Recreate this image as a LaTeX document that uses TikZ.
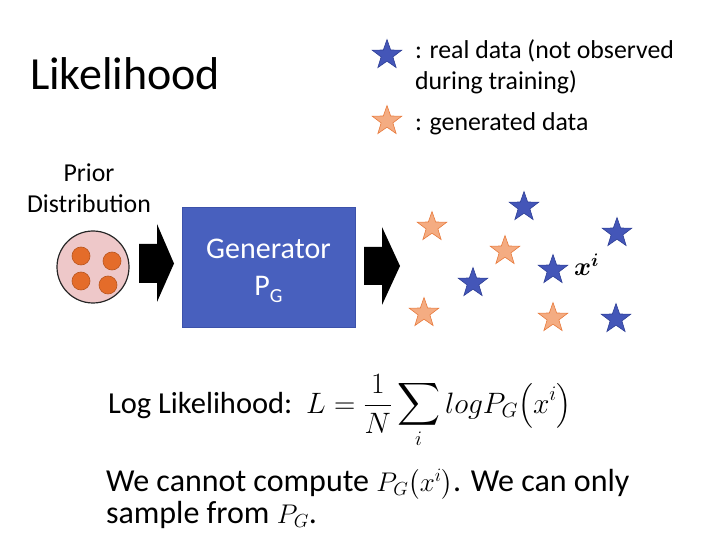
\RequirePackage{fix-cm}
\documentclass[tikz,border=0pt]{standalone}
\usepackage{amsmath}
\usepackage{graphicx}
\usepackage{fontspec}
\setmainfont{Carlito}
\usetikzlibrary{shapes.geometric}
\definecolor{genblue}{RGB}{72,96,190}
\definecolor{genedge}{RGB}{60,82,170}
\definecolor{realfill}{RGB}{68,86,184}
\definecolor{realedge}{RGB}{45,62,150}
\definecolor{genfill}{RGB}{244,172,130}
\definecolor{genline}{RGB}{232,122,60}
\definecolor{priorpink}{RGB}{238,200,201}
\definecolor{dotfill}{RGB}{228,108,42}
\definecolor{dotedge}{RGB}{185,85,30}
\tikzset{
  realstar/.style={star, star points=5, star point ratio=2.5, minimum size=31pt, inner sep=0pt,
    fill=realfill, draw=realedge, line width=0.6pt},
  genstar/.style={star, star points=5, star point ratio=2.5, minimum size=31pt, inner sep=0pt,
    fill=genfill, draw=genline, line width=0.6pt},
  dot/.style={circle, minimum size=18pt, inner sep=0pt, fill=dotfill, draw=dotedge, line width=0.6pt},
  txt/.style={anchor=base west, inner sep=0pt, outer sep=0pt},
  ctxt/.style={anchor=base, inner sep=0pt, outer sep=0pt},
  blockarrow/.style={fill=black},
}
\newcommand{\bigsum}{\mathop{\scalebox{1.2}{$\displaystyle\sum$}}\limits}
\newcommand{\smallmath}[1]{{\fontsize{27}{30}\selectfont$#1$}}
\begin{document}
\begin{tikzpicture}[x=1pt,y=-1pt]
\useasboundingbox (0,0) rectangle (712,545);
% title
\node[txt] (title) at (30,90) {\fontsize{46}{52}\selectfont Likelihood};
% legend
\node[realstar] (lreal) at (387,55) {};
\node[genstar] (lgen) at (387,121) {};
\node[txt] (lrealtxt1) at (415,59) {\fontsize{25.8}{30}\selectfont : real data (not observed};
\node[txt] (lrealtxt2) at (415,90) {\fontsize{25.8}{30}\selectfont during training)};
\node[txt] (lgentxt) at (415,131) {\fontsize{25.8}{30}\selectfont : generated data};
% prior
\node[ctxt] (priorA) at (89,182) {\fontsize{25.8}{30}\selectfont Prior};
\node[ctxt] (priorB) at (89,213) {\fontsize{25.8}{30}\selectfont Distribution};
\node[circle, minimum size=72pt, inner sep=0pt, fill=priorpink, draw=black!85, line width=1.2pt] (prior) at (93,267) {};
\node[dot] (d1) at (81,256) {};
\node[dot] (d2) at (112,261) {};
\node[dot] (d3) at (81,281) {};
\node[dot] (d4) at (108,285) {};
% left block arrow
\fill[blockarrow] (139,244) -- (157,244) -- (157,224) -- (174,263.5) -- (157,302) -- (157,283) -- (139,283) -- cycle;
% generator
\node[rectangle, minimum width=173pt, minimum height=120pt, inner sep=0pt, fill=genblue, draw=genedge, line width=0.6pt] (gen) at (268.5,267) {};
\node[ctxt, text=white] (gentxt) at (268.5,259) {\fontsize{30}{34}\selectfont Generator};
\node[ctxt, text=white] (gensub) at (268.5,295) {\fontsize{30}{34}\selectfont P\raisebox{-7pt}{\fontsize{20}{22}\selectfont G}};
% right block arrow
\fill[blockarrow] (364,247) -- (382,247) -- (382,227) -- (400,266) -- (382,305) -- (382,285) -- (364,285) -- cycle;
% data stars
\node[genstar] (g1) at (432,227) {};
\node[genstar] (g2) at (505,251) {};
\node[genstar] (g3) at (424,313) {};
\node[genstar] (g4) at (553,318) {};
\node[realstar] (r1) at (524,207) {};
\node[realstar] (r2) at (617,233) {};
\node[realstar] (r3) at (553,270) {};
\node[realstar] (r4) at (473,283) {};
\node[realstar] (r5) at (616,319) {};
\node[txt] (xi) at (574,276) {\fontsize{26}{30}\selectfont $\boldsymbol{x}^{\boldsymbol{i}}$};
% likelihood formula
\node[txt] (ll) at (108,413) {\fontsize{30.5}{34}\selectfont Log Likelihood:\ \ \fontsize{29.5}{34}\selectfont$\displaystyle L=\frac{1}{N}\bigsum_{i} logP_{G}\bigl(x^{i}\bigr)$};
% bottom text
\node[txt] (note1) at (106,491) {\fontsize{32}{36}\selectfont We cannot compute \smallmath{P_{G}\bigl(x^{i}\bigr)}. We can only};
\node[txt] (note2) at (106,523) {\fontsize{32}{36}\selectfont sample from \smallmath{P_{G}}.};
\end{tikzpicture}
\end{document}
